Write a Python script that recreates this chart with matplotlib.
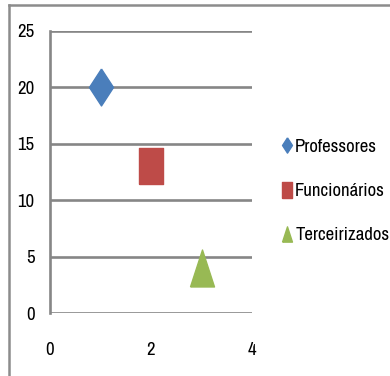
import numpy as np
import matplotlib
matplotlib.use("Agg")
import matplotlib.pyplot as plt
from matplotlib.lines import Line2D

# -------------------------------
# DATA
# -------------------------------
series = ["Professores", "Funcionários", "Terceirizados"]
x_vals = [1, 2, 3]
y_vals = [20, 13, 4]
colors = ["#4A7EBB", "#BE4B48", "#98B954"]

x_ticks = [0, 2, 4]
y_ticks = [0, 5, 10, 15, 20, 25]

# tall, narrow marker shapes (Excel look)
diamond = [(0, 1), (0.65, 0), (0, -1), (-0.65, 0), (0, 1)]
square = [(-0.65, -1), (0.65, -1), (0.65, 1), (-0.65, 1), (-0.65, -1)]
triangle = [(-0.65, -1), (0.65, -1), (0, 1), (-0.65, -1)]
markers = [diamond, square, triangle]

plt.rcParams['font.family'] = ['Archivo Narrow', 'Carlito', 'DejaVu Sans']
plt.rcParams['font.size'] = 13.5

fig = plt.figure(figsize=(3.9, 3.76), dpi=100)
ax = fig.add_axes([50/390, 1 - 313/376, 202/390, 282.5/376])

for name, x, y, c, m in zip(series, x_vals, y_vals, colors, markers):
    ax.plot([x], [y], linestyle="none", marker=m, markersize=26.6,
            color=c, markeredgecolor=c, label=name, clip_on=False)

ax.set_xlim(0, 4)
ax.set_ylim(0, 25)
ax.set_xticks(x_ticks)
ax.set_yticks(y_ticks)
ax.yaxis.grid(True, color="#868686", linewidth=1.9)
ax.set_axisbelow(True)
for s in ["top", "right", "bottom"]:
    ax.spines[s].set_visible(False)
ax.spines["left"].set_color("#868686")
ax.spines["left"].set_linewidth(1.9)
ax.tick_params(axis="both", length=0)
ax.tick_params(axis="y", pad=11)
ax.tick_params(axis="x", pad=21)

# legend
handles = [Line2D([], [], linestyle="none", marker=m, markersize=11,
                  color=c, markeredgecolor=c)
           for m, c in zip(markers, colors)]
fig.legend(handles, series, loc="center left",
           bbox_to_anchor=(282/390, 1 - 191/376), frameon=False,
           handlelength=0.5, handletextpad=0.2, labelspacing=1.5,
           borderpad=0, borderaxespad=0)

# chart border (top and left visible)
fig.add_artist(Line2D([9/390, 1.0], [1 - 5/376, 1 - 5/376],
                      transform=fig.transFigure, color="#8c8c8c", linewidth=1.8))
fig.add_artist(Line2D([9/390, 9/390], [0.0, 1 - 5/376],
                      transform=fig.transFigure, color="#8c8c8c", linewidth=1.8))

fig.savefig("out.png", dpi=100)
